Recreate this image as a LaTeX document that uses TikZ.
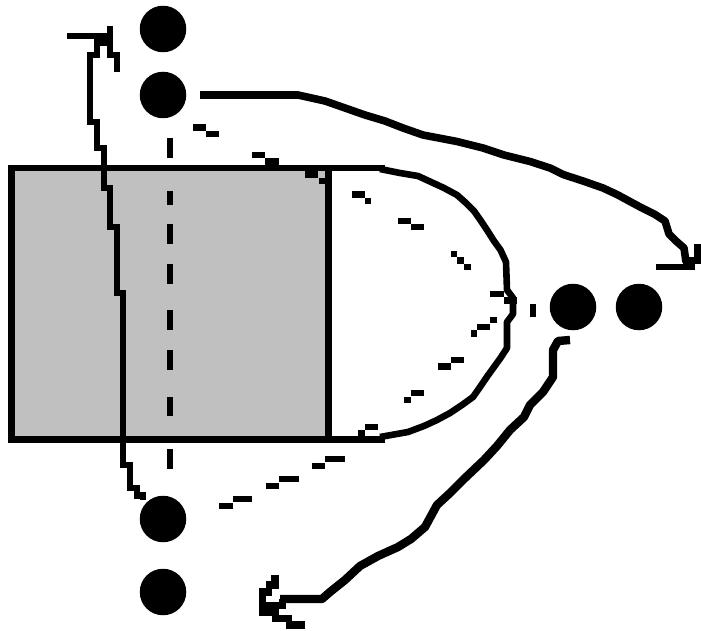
\documentclass[tikz,border=0pt]{standalone}
\tikzset{
  dotnode/.style={circle,fill=black,draw=none,minimum size=46.5pt,inner sep=0pt},
  boxline/.style={draw=black,line width=6.6pt,miter limit=10},
  curveline/.style={draw=black,line width=6.6pt,line join=miter,line cap=butt},
  polyline/.style={draw=black,line width=8.4pt,line join=round,line cap=butt},
  dashline/.style={draw=black,line width=6.6pt,line cap=butt,line join=miter},
}
\definecolor{boxgray}{HTML}{C0C0C0}
\begin{document}
\begin{tikzpicture}[x=1pt,y=-1pt]
\useasboundingbox (0,0) rectangle (701,631);
\fill[white] (0,0) rectangle (701,631);
% square and lens outline
\fill[boxgray] (11.5,168) rectangle (328.5,439.5);
\draw[boxline] (385,168) -- (11.5,168) -- (11.5,439.5) -- (385,439.5);
\draw[boxline] (328.5,168) -- (328.5,439.5);
% dots
\node[dotnode] (d1) at (163,29) {};
\node[dotnode] (d2) at (163,95) {};
\node[dotnode] (d3) at (163,519) {};
\node[dotnode] (d4) at (163,592) {};
\node[dotnode] (d5) at (573,307) {};
\node[dotnode] (d6) at (639,307) {};
% free ends
\coordinate (c1s) at (200,95);
\coordinate (c2s) at (143,500);
\coordinate (c3s) at (570,340);
\coordinate (arcT) at (380,169);
\coordinate (arcB) at (380,437);
% lens arc
\draw[polyline,line width=6.6pt] (arcT) -- (400,173) -- (418,176) -- (431,182) -- (444,188) -- (457,195) -- (466,203) -- (474,211) -- (481,221) -- (487,230) -- (494,241) -- (500.5,250) -- (506,262) -- (507,290) -- (513,298) -- (513,314) -- (507,322) -- (507,348) -- (500.5,358) -- (494,367) -- (487.5,376) -- (480,387) -- (473,397) -- (462,405) -- (450,413) -- (437,420) -- (424,426) -- (408,432) -- (arcB);
% solid curve top right
\draw[polyline,line width=7.6pt] (c1s) -- (298,95) -- (325,101) -- (345,108) -- (365,115) -- (385,121) -- (403,128) -- (423,135) -- (457,141.5) -- (483,148) -- (504,155) -- (530,161.5) -- (550,168) -- (563,174.5) -- (583,181) -- (603,188) -- (617,194.5) -- (629,201) -- (642,208) -- (655,214.5) -- (665,221) -- (669,234) -- (676,241) -- (684,248) -- (686,262);
\draw[curveline] (656,267) -- (695,267);
\draw[curveline] (683,260.5) -- (701,260.5);
\draw[curveline] (697.5,244) -- (697.5,262);
% solid curve up the left
\draw[curveline] (c2s) -- (143,495.5) -- (137,495.5) -- (137,488) -- (130,488) -- (130,465) -- (123,465) -- (123,293) -- (117,293) -- (117,227) -- (110,227) -- (110,188) -- (104,188) -- (104,148) -- (97,148) -- (97,122) -- (90,122) -- (90,55) -- (97,55) -- (97,39);
\draw[curveline] (67,36) -- (113,36);
\draw[curveline] (97,42.5) -- (113,42.5);
\draw[curveline] (110,26) -- (110,58) (107,55) -- (120,55) (117,52) -- (117,72);
% solid curve bottom
\draw[polyline] (c3s) -- (558,341) -- (553,350) -- (553,377) -- (543,392) -- (530,405) -- (524,417) -- (510,430) -- (497,446) -- (484,460) -- (464,479) -- (450,493) -- (437,505) -- (425,527) -- (411,539) -- (398,547) -- (378,556) -- (360,566) -- (345,580) -- (330,592) -- (322,599) -- (280,599);
\draw[curveline,line width=7.4pt] (275,575) -- (275,588) (266,585) -- (279,585) (259,592) -- (272,592) (262.5,589) -- (262.5,615) (259,605.5) -- (286,605.5) (259,612) -- (279,612) (272,618.5) -- (292,618.5) (286,625) -- (305,625) (282.5,599) -- (282.5,605);
% dashed centre line
\draw[dashline] (170,138) -- (170,158) (170,191) -- (170,205) (170,224) -- (170,244) (170,264) -- (170,284) (170,310) -- (170,330) (170,350) -- (170,370) (170,397) -- (170,416) (170,449) -- (170,469);
% dashed lens
\draw[dashline]
 (193,127.5) -- (206,127.5) (206,134) -- (219,134)
 (252,155) -- (265,155) (265,161.5) -- (279,161.5)
 (305,174.5) -- (318,174.5) (319,181) -- (325,181)
 (352,194.5) -- (365,194.5) (365,201) -- (371,201)
 (398,221) -- (411,221) (411,227) -- (424,227)
 (451,254) -- (457,254) (457,260.5) -- (464,260.5) (464,267) -- (471,267)
 (490,294) -- (504,294) (504,300.5) -- (517,300.5)
 (533,304) -- (533,317)
 (490,320) -- (497,320) (477,327) -- (490,327) (471,333.5) -- (477,333.5)
 (451,360) -- (464,360) (438,366.5) -- (451,366.5)
 (411,393) -- (424,393) (404,400) -- (411,400)
 (365,427) -- (378,427) (358,433) -- (365,433)
 (325,459) -- (345,459) (312,466) -- (325,466)
 (279,479) -- (299,479) (266,486) -- (279,486)
 (233,499) -- (252,499) (219,506) -- (233,506);
\end{tikzpicture}
\end{document}
